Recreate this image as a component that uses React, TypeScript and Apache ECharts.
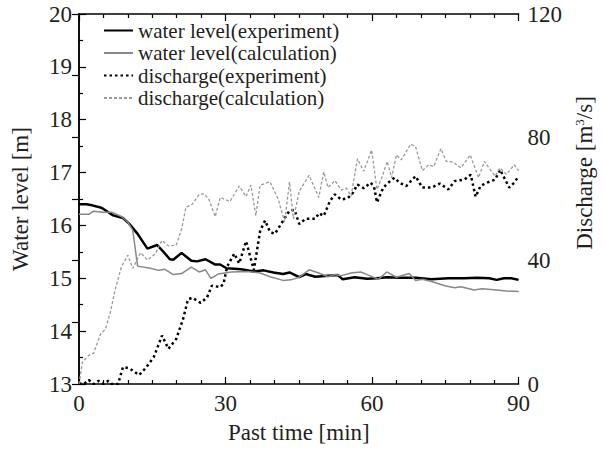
import React, { useEffect, useRef } from "react";
import * as echarts from "echarts";

const wlExpT = [0, 1.5, 2.7, 4, 4.7, 6, 7, 9, 10.3, 12, 14, 16, 17.3, 18.6, 19.3, 21, 23, 24.2, 25.9, 27.9, 28.9, 30.2, 31.8, 33.2, 35.8, 37.8, 39.8, 41.8, 43.1, 45.1, 46.4, 48.4, 51, 53, 54, 56.4, 59, 61, 63, 65.6, 69, 72.2, 75.6, 78.9, 81.5, 84, 85.5, 87, 88.5, 90];
const wlExpV = [16.4, 16.4, 16.38, 16.35, 16.33, 16.25, 16.19, 16.14, 16.03, 15.84, 15.56, 15.63, 15.5, 15.36, 15.35, 15.48, 15.33, 15.32, 15.36, 15.26, 15.26, 15.19, 15.18, 15.17, 15.13, 15.15, 15.11, 15.08, 15.11, 15.02, 15.08, 15.03, 15.05, 15.06, 14.98, 15.02, 14.99, 15.0, 15.02, 15.01, 15.01, 14.98, 15.0, 15.0, 15.01, 15.0, 14.97, 15.0, 15.0, 14.97];

const wlCalT = [0, 2, 3, 4.7, 6.7, 8.7, 10, 11, 12, 14.6, 16.3, 17.6, 19.3, 21, 23, 24.6, 25.9, 27, 28.5, 31.2, 34.5, 37.1, 39.1, 41.8, 43.4, 45.1, 47.1, 49.1, 51, 52.4, 53.7, 55.7, 57.7, 59, 61.3, 63, 65, 67.6, 68.9, 70.3, 72.2, 74.9, 76.9, 78.2, 80.9, 82.5, 85.5, 87.5, 90];
const wlCalV = [16.21, 16.21, 16.27, 16.25, 16.25, 16.17, 16.06, 15.91, 15.23, 15.19, 15.15, 15.17, 15.07, 15.09, 15.21, 15.12, 15.16, 15.0, 15.08, 15.12, 15.13, 15.1, 15.03, 14.96, 14.97, 15.02, 15.16, 15.1, 15.03, 15.07, 15.05, 15.1, 15.12, 15.07, 14.98, 15.12, 15.02, 15.09, 14.96, 14.98, 14.94, 14.86, 14.82, 14.84, 14.78, 14.8, 14.78, 14.76, 14.75];

const qExpT = [0, 1, 2, 3, 4, 5, 6, 6.7, 8, 9, 10.3, 12.3, 13.6, 15.3, 17, 18.3, 19.9, 21.3, 22.3, 23.2, 24.9, 26.2, 27.2, 28.9, 29.6, 30.3, 31.8, 32.8, 34.2, 35.8, 37.1, 38.1, 39.1, 40.1, 41.8, 43.1, 44.1, 45.1, 46.4, 48.4, 49.1, 50.1, 51.4, 52.4, 53.7, 55, 56, 57, 58.3, 59.7, 60.4, 61, 62.3, 63.3, 64.6, 65.6, 67, 68.9, 70.3, 72.2, 73.9, 75.6, 76.9, 78.9, 80.2, 81.2, 82.2, 83.5, 85.2, 86.2, 88.1, 89.1, 90];
const qExpV = [0.2, 0, 1.3, 0, 1, 0, 1, 0, 0, 5.5, 5.1, 2.9, 5.1, 8.7, 15.7, 11.4, 14.6, 21, 27.4, 28, 26.3, 28, 31.9, 31.4, 32.5, 38, 42.3, 39.1, 46.3, 37, 49.8, 53, 49.3, 48.7, 53, 56.2, 56.5, 51.9, 53.6, 53.6, 55.4, 54.5, 59.4, 61.5, 59.8, 60.2, 61.8, 64.7, 63.5, 65.3, 64, 58.9, 63.7, 65.3, 66.9, 65.3, 64.2, 67.4, 63.7, 63.7, 65, 63.1, 65.8, 66.3, 67.9, 60.7, 64.2, 65.3, 66.3, 69.5, 63.7, 65.3, 67.4];

const qCalT = [0, 0.7, 2, 3, 4.4, 5.4, 6.4, 7.4, 8.7, 10, 11, 12.6, 14, 15.6, 17, 18.3, 19.9, 21, 21.9, 23.2, 24.6, 25.6, 26.6, 27.9, 28.9, 30.9, 32.8, 34.2, 35.2, 36.2, 37.1, 39.1, 40.8, 42.1, 43.1, 43.9, 45.1, 47.1, 49.1, 50.1, 51, 52.4, 53.7, 54.7, 55.7, 57, 58.3, 59.9, 61, 62, 63.1, 64, 65, 66, 67.9, 68.9, 70.3, 71.6, 72.6, 74.1, 75.2, 76.5, 78.2, 80.1, 81.8, 83, 84.2, 85.2, 86.2, 87.5, 89.1, 90];
const qCalV = [0, 7.1, 9.3, 10, 16.2, 17.8, 23.1, 30.6, 38.1, 41.8, 37.5, 42.6, 40.2, 42.2, 46.6, 44.8, 45, 50.3, 57.3, 58.3, 61.5, 61.7, 59.9, 54.3, 60.5, 59.2, 64.2, 60.8, 64.5, 54.6, 64.5, 65.6, 59.9, 52.5, 65.6, 53.5, 62.6, 67.7, 60.5, 68.8, 63.7, 66, 62.9, 63.5, 61, 73, 69, 75.9, 63.1, 66.9, 72.2, 66.9, 74.3, 72.7, 77.8, 77, 69.2, 71.1, 70.5, 76.3, 72.2, 72, 70.1, 74.3, 66.9, 72.2, 69.5, 67.4, 70.1, 68, 71.1, 69.2];

const seriesNames = [
  "water level(experiment)",
  "water level(calculation)",
  "discharge(experiment)",
  "discharge(calculation)",
];

const zip = (t: number[], v: number[]) => t.map((x, i) => [x, v[i]]);

const FONT = "Liberation Serif";
const TXT = "#231f20";

export default function App() {
  const ref = useRef<HTMLDivElement>(null);
  useEffect(() => {
    if (!ref.current) return;
    const chart = echarts.init(ref.current, null, { renderer: "svg" });
    const axisLine = { show: true, lineStyle: { color: "#000", width: 1.5 } };
    const tickStyle = { color: "#000", width: 1.2 };
    chart.setOption({
      animation: false,
      backgroundColor: "#fff",
      textStyle: { fontFamily: FONT, color: TXT },
      grid: { left: 79, right: 72, top: 14, bottom: 60 },
      legend: {
        orient: "vertical",
        left: 98,
        top: 15,
        itemWidth: 29,
        itemHeight: 14,
        itemGap: 1.5,
        data: seriesNames,
        itemStyle: { opacity: 0 },
        textStyle: { fontFamily: FONT, fontSize: 21, color: TXT, lineHeight: 20, padding: [0, 0, 0, 0] },
      },
      xAxis: [
        {
          type: "value",
          min: 0,
          max: 90,
          interval: 30,
          position: "bottom",
          name: "Past time [min]",
          nameLocation: "middle",
          nameGap: 37,
          nameTextStyle: { fontFamily: FONT, fontSize: 23, color: TXT },
          axisLine,
          axisTick: { show: true, inside: true, length: 7, lineStyle: tickStyle },
          minorTick: { show: true, splitNumber: 6, length: 4, lineStyle: tickStyle },
          axisLabel: { fontFamily: FONT, fontSize: 23, color: TXT, margin: 8 },
          splitLine: { show: false },
        },
        {
          type: "value",
          min: 0,
          max: 90,
          interval: 30,
          position: "top",
          axisLine,
          axisTick: { show: true, inside: true, length: 7, lineStyle: tickStyle },
          minorTick: { show: true, splitNumber: 6, length: 4, lineStyle: tickStyle },
          axisLabel: { show: false },
          splitLine: { show: false },
        },
      ],
      yAxis: [
        {
          type: "value",
          min: 13,
          max: 20,
          interval: 1,
          position: "left",
          name: "Water level [m]",
          nameLocation: "middle",
          nameGap: 47,
          nameRotate: 90,
          nameTextStyle: { fontFamily: FONT, fontSize: 23, color: TXT },
          axisLine,
          axisTick: { show: true, inside: true, length: 7, lineStyle: tickStyle },
          minorTick: { show: true, splitNumber: 2, length: 4, lineStyle: tickStyle },
          axisLabel: { fontFamily: FONT, fontSize: 23, color: TXT, margin: 7 },
          splitLine: { show: false },
        },
        {
          type: "value",
          min: 0,
          max: 120,
          interval: 40,
          position: "right",
          name: "Discharge [m{sup|3}/s]",
          nameLocation: "middle",
          nameGap: 50,
          nameRotate: 90,
          nameTextStyle: {
            fontFamily: FONT,
            fontSize: 23,
            color: TXT,
            padding: [0, 0, 0, 52],
            rich: { sup: { fontFamily: FONT, fontSize: 13, color: TXT, verticalAlign: "top", padding: [0, 0, 10, 0] } },
          },
          axisLine,
          axisTick: { show: true, inside: true, length: 7, lineStyle: tickStyle },
          minorTick: { show: true, splitNumber: 2, length: 7, lineStyle: tickStyle },
          axisLabel: { fontFamily: FONT, fontSize: 23, color: TXT, margin: 9 },
          splitLine: { show: false },
        },
      ],
      series: [
        {
          name: seriesNames[0],
          type: "line",
          xAxisIndex: 0,
          yAxisIndex: 0,
          symbol: "none",
          data: zip(wlExpT, wlExpV),
          lineStyle: { color: "#000", width: 2.5 },
          itemStyle: { color: "#000" },
        },
        {
          name: seriesNames[1],
          type: "line",
          xAxisIndex: 0,
          yAxisIndex: 0,
          symbol: "none",
          data: zip(wlCalT, wlCalV),
          lineStyle: { color: "#888", width: 1.5 },
          itemStyle: { color: "#888" },
        },
        {
          name: seriesNames[2],
          type: "line",
          xAxisIndex: 0,
          yAxisIndex: 1,
          symbol: "none",
          data: zip(qExpT, qExpV),
          lineStyle: { color: "#000", width: 2.5, type: [2.5, 3] },
          itemStyle: { color: "#000" },
        },
        {
          name: seriesNames[3],
          type: "line",
          xAxisIndex: 0,
          yAxisIndex: 1,
          symbol: "none",
          data: zip(qCalT, qCalV),
          lineStyle: { color: "#999", width: 1.3, type: [3, 2] },
          itemStyle: { color: "#999" },
        },
      ],
    });
    return () => chart.dispose();
  }, []);
  return <div ref={ref} style={{ width: 604, height: 449, position: "absolute", left: 0, top: 0 }} />;
}
